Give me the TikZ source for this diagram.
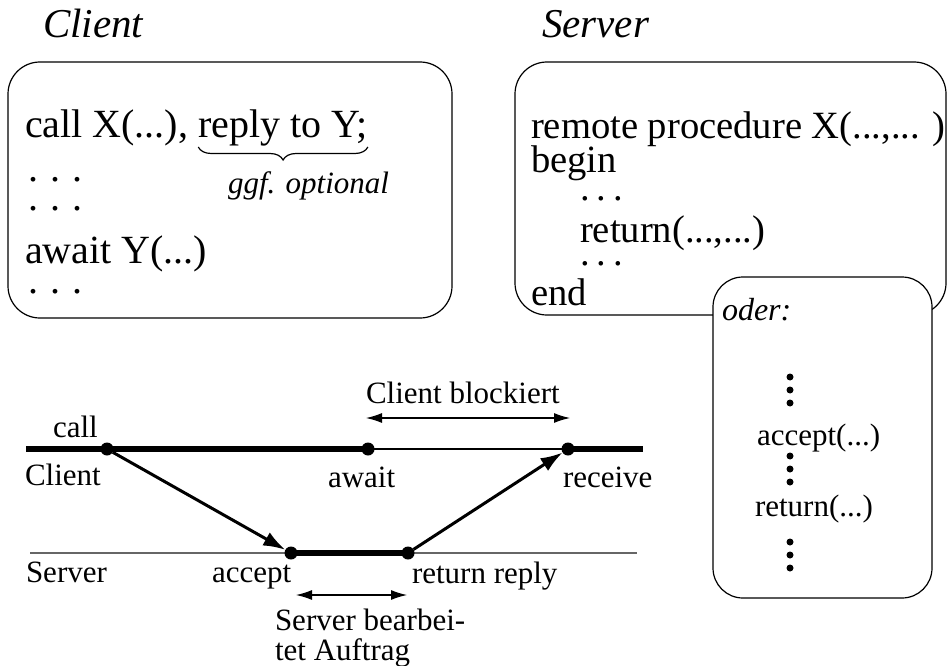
\documentclass[tikz,border=0pt]{standalone}
\usepackage{fontspec}
\setmainfont{Liberation Serif}
\usetikzlibrary{arrows.meta,decorations.pathreplacing}
\begin{document}
\begin{tikzpicture}[x=1pt,y=-1pt,
  every node/.style={inner sep=0pt, outer sep=0pt},
  bigtxt/.style={font=\fontsize{40}{48}\selectfont, anchor=base west},
  srvtxt/.style={font=\fontsize{38.6}{46}\selectfont, anchor=base west},
  titletxt/.style={font=\fontsize{41}{48}\selectfont\itshape, anchor=base west},
  smalltxt/.style={font=\fontsize{31}{36}\selectfont, anchor=base west},
  smallit/.style={font=\fontsize{31}{36}\selectfont\itshape, anchor=base west},
  box/.style={draw, line width=1.2pt, rounded corners=32pt, rectangle},
  evdot/.style={circle, fill, minimum size=13pt, inner sep=0pt},
  vdot/.style={circle, fill, minimum size=7pt, inner sep=0pt},
  thickline/.style={line width=6pt},
  thinline/.style={line width=1.2pt},
  msg/.style={line width=3pt, -{Latex[length=22pt,width=15pt]}},
  spanarrow/.style={line width=1.2pt, {Latex[length=16pt,width=10pt]}-{Latex[length=16pt,width=10pt]}},
]
\useasboundingbox (0,0) rectangle (947,666);

% titles
\node[titletxt] (tclient) at (43,38) {Client};
\node[titletxt] (tserver) at (542,38) {Server};

% boxes
\node[box, minimum width=444pt, minimum height=256pt] (clientbox) at (230,190) {};
\node[box, minimum width=431pt, minimum height=253pt] (serverbox) at (730.5,188.5) {};
\node[box, fill=white, rounded corners=30pt, minimum width=219pt, minimum height=321pt] (oderbox) at (822.5,437.5) {};

% client box text
\node[bigtxt] (c1) at (25,137) {call X(...),};
\node[bigtxt] (c1b) at ([xshift=10pt]c1.base east) {reply to Y;};
\draw[thinline, decorate, decoration={brace, mirror, amplitude=13pt}]
  ([yshift=-10pt]c1b.base west) -- ([yshift=-10pt]c1b.base east);
\node[smallit] (ggf) at (228,193) {ggf. optional};
\node[bigtxt] (cd1) at (28,181) {.\hspace{12pt}.\hspace{12pt}.};
\node[bigtxt] (cd2) at (28,210) {.\hspace{12pt}.\hspace{12pt}.};
\node[bigtxt] (c2) at (25,263) {await Y(...)};
\node[bigtxt] (cd3) at (28,293) {.\hspace{12pt}.\hspace{12pt}.};

% server box text
\node[srvtxt] (s1) at (531,139) {remote procedure X(...,... )};
\node[srvtxt] (s2) at (531,172) {begin};
\node[srvtxt] (sd1) at (580,200) {.\hspace{7pt}.\hspace{7pt}.};
\node[srvtxt] (s3) at (580,242) {return(...,...)};
\node[srvtxt] (sd2) at (580,265) {.\hspace{7pt}.\hspace{7pt}.};
\node[srvtxt] (s4) at (531,305) {end};

% oder box text
\node[smallit, font=\fontsize{32}{36}\selectfont\itshape] (oder) at (722,320) {oder:};
\node[vdot] (v1) at (790,377) {};
\node[vdot] (v2) at (790,390) {};
\node[vdot] (v3) at (790,403) {};
\node[smalltxt] (acc) at (757,445) {accept(...)};
\node[vdot] (v4) at (790,456) {};
\node[vdot] (v5) at (790,469) {};
\node[vdot] (v6) at (790,482) {};
\node[smalltxt] (ret) at (755,516) {return(...)};
\node[vdot] (v7) at (790,542) {};
\node[vdot] (v8) at (790,555) {};
\node[vdot] (v9) at (790,568) {};

% time lines
\coordinate (clL) at (26,449);
\coordinate (clR) at (643,449);
\coordinate (svL) at (30,553);
\coordinate (svR) at (637,553);
\coordinate (pcall) at (107,449);
\coordinate (pawait) at (368,449);
\coordinate (precv) at (568,449);
\coordinate (pacc) at (291,553);
\coordinate (pret) at (408,553);

\draw[thinline, black!60] (svL) -- (svR);
\draw[thinline] (pawait) -- (precv);
\draw[thickline] (clL) -- (pawait);
\draw[thickline] (precv) -- (clR);
\draw[thickline] (pacc) -- (pret);

\node[evdot] (ecall) at (pcall) {};
\node[evdot] (eawait) at (pawait) {};
\node[evdot] (erecv) at (precv) {};
\node[evdot] (eacc) at (pacc) {};
\node[evdot] (eret) at (pret) {};

\draw[msg] (ecall) -- (eacc);
\draw[msg] (eret) -- (erecv);

% labels
\node[smalltxt] (lcall) at (53,437) {call};
\node[smalltxt] (lclient) at (25,485) {Client};
\node[smalltxt] (lawait) at (328,487) {await};
\node[smalltxt] (lrecv) at (563,487) {receive};
\node[smalltxt] (lblock) at (366,403) {Client blockiert};
\node[smalltxt] (lserver) at (26,582) {Server};
\node[smalltxt] (lacc) at (212,582) {accept};
\node[smalltxt] (lret) at (412,583) {return reply};
\node[smalltxt] (lsb1) at (275,630) {Server bearbei-};
\node[smalltxt] (lsb2) at (275,660) {tet Auftrag};

\coordinate (b1) at (366,418);
\coordinate (b2) at (570,418);
\coordinate (s1a) at (296,595);
\coordinate (s1b) at (407,595);
\draw[spanarrow] (b1) -- (b2);
\draw[spanarrow] (s1a) -- (s1b);
\end{tikzpicture}
\end{document}
